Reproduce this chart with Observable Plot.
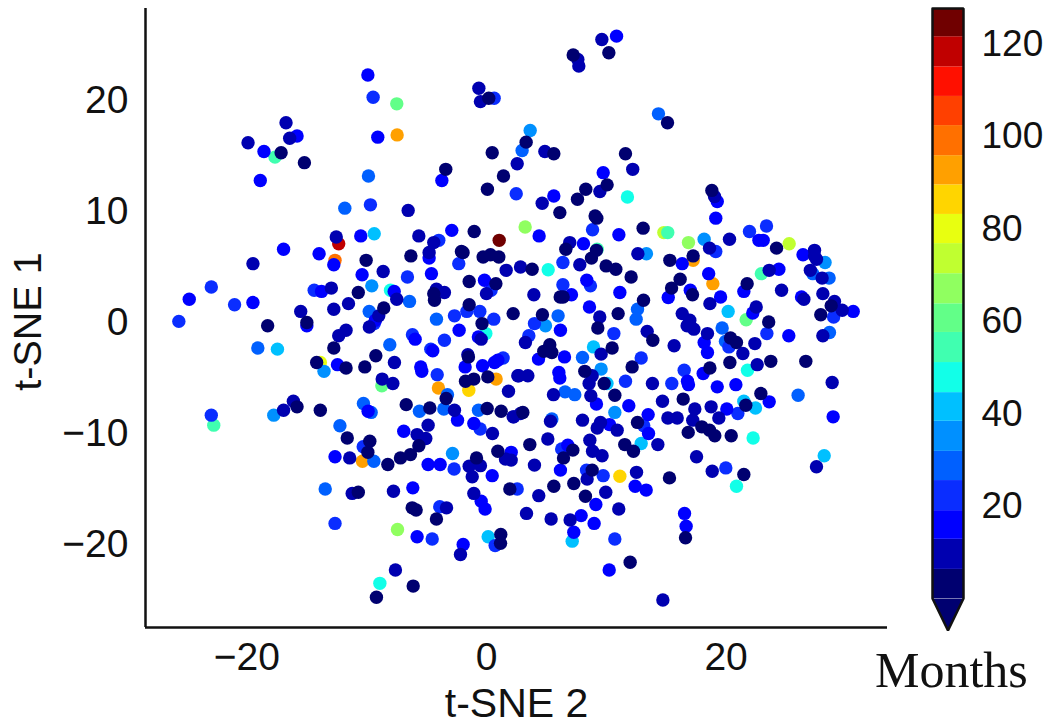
<!DOCTYPE html>
<html>
<head>
<meta charset="utf-8">
<script src="https://cdn.jsdelivr.net/npm/d3@7"></script>
<script src="https://cdn.jsdelivr.net/npm/@observablehq/plot@0.6"></script>
<style>
html,body{margin:0;padding:0;background:#fff}
#wrap{position:relative;width:1050px;height:728px;overflow:hidden}
#wrap svg{position:absolute;left:0;top:0;background:transparent}
#months{position:absolute;left:875px;top:643px;font:50px/54px "Liberation Serif",serif;color:#111}
</style>
</head>
<body>
<div id="wrap"><div id="months">Months</div></div>
<script>
// Colour-bar band edges (months) and their colours
const bandEdges = [0.1,6.4,12.9,19.1,25.6,31.9,38.4,44.6,51.1,57.6,63.8,70.3,76.8,83.1,89.5,95.8,102.3,108.6,115,121.5,127.6];
const bandColors = ["#000070","#0000b0","#0000ff","#0a2dff","#0060ff","#0090ff","#00c0ff","#12ffe8","#40ffb0","#62ff88","#90ff60","#c0ff30","#e8ff10","#ffd500","#ffa000","#ff7000","#ff4000","#ff1000","#c00000","#700000"];
const cbTicks = [20,40,60,80,100,120];
const xTicks = [-20,0,20];
const yTicks = [-20,-10,0,10,20];
const months = bandEdges.slice(0,-1).map((e,i)=>(e+bandEdges[i+1])/2);

// [t-SNE 2, t-SNE 1] per colour band
const b19=[[1.2,7.4]];
const b18=[[-11.9,7.1]];
const b15=[[-12.2,5.6]];
const b14=[[-7.13,16.9],[0.95,-5.1],[-3.76,-5.9],[-9.96,-12.5],[18.64,3.5],[17.03,5.6]];
const b13=[[-1.28,-6.1],[11.05,-13.85]];
const b12=[[-13.4,-3.6]];
const b11=[[24.87,7.1],[14.64,8.1]];
const b10=[[3.32,8.6],[16.65,7.2],[-7.1,-18.65]];
const b9=[[-7.16,19.7],[-8.38,-5.7],[21.36,0.25]];
const b8=[[-17.1,14.9],[-22.1,-9.25],[14.96,8.1],[9.2,6.6],[22.6,4.4]];
const b7=[[-7.67,2.9],[0.11,-1.0],[-8.54,-23.5],[11.67,11.3],[5.2,4.75],[21.47,-4.3],[21.93,-10.4],[20.57,-14.75]];
const b6=[[-9.0,8.0],[-16.9,-2.4],[0.3,-19.3],[19.89,1.0],[8.9,-2.2],[10.0,-5.5],[22.12,-7.7],[21.17,-7.1],[12.79,-10.9],[27.73,-12.0],[7.16,-19.7]];
const b5=[[-9.2,3.3],[-13.1,-4.4],[-17.2,-8.35],[-2.61,-11.8],[3.73,17.3],[17.93,7.5],[13.22,6.2],[27.8,5.4],[4.98,-0.3],[9.52,-4.2],[10.64,-8.1]];
const b4=[[-9.47,13.2],[-11.4,10.3],[-9.41,1.0],[-3.92,0.3],[-18.5,-2.3],[-7.73,-2.0],[-6.12,1.9],[-3.02,-6.5],[-5.31,-8.0],[-3.32,-7.8],[-0.49,-7.9],[-9.88,-7.3],[-9.25,-8.1],[-11.8,-9.3],[-9.03,-12.5],[-13.0,-15.0],[14.2,18.8],[3.07,15.5],[26.8,4.4],[28.13,4.0],[12.49,1.2],[12.38,0.3],[6.01,0.6],[19.4,-0.5],[19.67,-1.7],[28.16,-0.9],[8.0,-3.15],[6.58,-6.25],[7.37,-6.5],[25.6,-6.55],[5.5,-8.7]];
const b3=[[-9.09,20.3],[0.79,20.2],[-22.3,3.2],[-20.4,1.6],[-24.95,0.1],[-13.9,2.9],[-9.31,10.6],[-3.73,7.4],[-2.1,5.3],[-6.29,4.1],[0.54,2.9],[-2.45,0.6],[-1.44,1.0],[-0.38,1.0],[0.76,0.3],[-9,-0.1],[-5.88,-1.1],[-4.38,-2.4],[-3.27,-1.6],[1.52,-3.2],[-3.86,-4.7],[-22.3,-8.35],[-9.9,-11.2],[-0.35,-9.6],[-2.48,-13.2],[2.67,-15.0],[-3.65,-16.6],[-12.2,-18.1],[-4.27,-19.5],[0.87,-20.1],[2.59,11.6],[8.82,8.35],[21.63,8.2],[23.02,8.7],[18.88,6.4],[6.4,5.4],[6.4,3.4],[8.65,3.3],[28.5,0.5],[4.08,-0.1],[3.62,-1.2],[10.56,-1.0],[19.95,-2.2],[23.05,-1.0],[12.79,-3.2],[16.3,-4.3],[11.51,-5.3],[15.29,-5.5],[20.68,-8.2],[13.0,-9.3],[6.3,-11.4],[19.7,-13.1],[8.33,-13.3],[9.69,-13.8],[10.64,-19.5]];
const b2=[[-9.52,22.3],[-8.71,16.7],[-15.3,16.8],[-18.0,15.4],[-18.3,12.8],[-3.48,12.8],[-10.1,7.8],[-2.67,8.3],[-16.4,6.6],[-13.5,6.2],[-12.3,5.2],[-4.52,5.8],[-9.99,4.3],[-4.33,4.4],[0,3.8],[-24.1,2.1],[-18.9,1.8],[-13.3,2.8],[-7.37,2.8],[-8.9,0.2],[-14.5,-0.3],[-12,-3.8],[-5.66,-1.5],[-4.22,-2.55],[-2.07,-0.7],[-0.5,-1.3],[-5.2,-4],[-5.12,-4.4],[-1.58,-4],[-0.16,-3.9],[1.09,-3.4],[0.82,-3.6],[-9.5,-8],[-2.2,-8.8],[-6.59,-9.8],[-0.87,-9.1],[-12.2,-12.1],[2.18,-11.7],[-4.6,-12.8],[-3.62,-12.8],[0.63,-13.8],[-5.85,-14.9],[-0.27,-16.1],[0.05,-16.8],[-5.5,-19.3],[-1.74,-20],[10.78,25.8],[9.69,13.5],[5.66,11.4],[19,10.9],[18.88,9.4],[4.46,7.8],[10.97,7.9],[8.08,7.1],[22.4,7.4],[22.75,7.4],[16.14,5.3],[18.3,4.4],[26,6.1],[24.03,4.8],[25.88,2.3],[21.17,2.8],[19.27,2.3],[15,2.25],[16.8,2.9],[11.05,2.7],[8.57,1.4],[7.1,2.5],[8.35,3.8],[21.9,0.85],[30.1,1.0],[6.2,-0.7],[4.41,-3.3],[6.53,-3.1],[17.93,-1.8],[18.2,-2.7],[24.84,-1.2],[17.85,-4.6],[6.07,-4.5],[6.15,-5.0],[16.57,-5.3],[16.65,-5.6],[19,-5.8],[20.52,-5.6],[9.14,-7.35],[11.78,-7.5],[19.78,-7.8],[23.24,-7.15],[28.46,-8.5],[13.36,-8.3],[13.39,-10],[10.2,-9.2],[6.8,-11.05],[6.2,-13.3],[12.3,-14.75],[13.2,-15.1],[9.09,-16.4],[7.89,-17.4],[8.95,-18.1],[16.33,-17.2],[16.46,-18.35],[7.29,-18.9],[10.18,-22.3]];
const b1=[[-16.2,18],[-15.9,16.6],[-19.3,16.2],[-0.46,21.1],[-0.33,19.9],[2.67,14.3],[-6.23,10.1],[-12.1,7.7],[-5.36,7.8],[-4.14,7.2],[-18.9,5.3],[-4.52,6.3],[1.77,4.7],[2.94,5],[-8.27,4.6],[0.16,2.6],[-12.5,3.1],[-7.16,2.1],[-3.92,3],[-3.27,2.7],[-15,1],[-12.3,1.2],[-11.1,1.7],[-8.63,0.6],[-11.3,-0.7],[-11.9,-1.2],[-9.4,-0.4],[-7.35,-3.6],[-0.27,-1.5],[-1.36,-2.9],[2.72,-4.8],[-8.35,-5.1],[-7.48,-5.5],[1.96,-6.2],[-2.45,-7.9],[2.34,-8.5],[2.94,-8.2],[-15.6,-7.1],[-16.4,-7.9],[-4.6,-9.25],[-5.5,-10.1],[-4.79,-10.45],[-11,-12.2],[0.65,-10],[1.71,-12.3],[2.18,-12.4],[-0.33,-12.9],[-1.25,-12.95],[-1,-13.9],[-10.8,-15.4],[-7.43,-15.2],[-0.87,-15.4],[-3.1,-16.7],[-1.96,-20.9],[-7.27,-22.3],[9.58,25.5],[7.62,23.7],[7.7,23.1],[4.93,15.4],[12.1,13.8],[4.71,10.75],[9.42,11.8],[18.78,11.35],[6.96,7.2],[20,7.5],[7.78,5.2],[12.52,6.2],[18.37,6.7],[26.94,6.5],[26.94,6],[27.1,5.7],[26.6,4.7],[27.56,4],[23.24,4.7],[24.25,2.9],[27.62,2.6],[26.07,2.1],[18.4,1.7],[4.03,2.5],[9.41,0.5],[16.14,0.8],[16.76,0.2],[22.18,1.4],[28.57,1.9],[29.2,1.1],[3.34,-1.8],[9.52,-2.85],[13.28,-0.8],[15.48,-2.1],[18.2,-1],[17.09,-0.6],[16.54,-0.3],[22.07,-1.9],[27.62,-1.2],[21.09,-2.8],[22.26,-3.8],[2.8,-4.8],[3.54,-4.8],[8.79,-4.8],[8.54,-5.5],[13.71,-5.5],[5.63,-6.5],[8.68,-6.6],[14.53,-7.1],[17.17,-7.8],[18.5,-7.6],[19.13,-8.6],[28.38,-5.4],[2.39,-8.5],[5.39,-8.9],[8,-8.8],[9.47,-9],[9.2,-9.5],[10.83,-9.7],[14.97,-8.6],[15.73,-8.6],[17,-8.8],[5.17,-10.5],[8.6,-10.6],[8.82,-11.6],[9.6,-12],[14.15,-11],[4.08,-12.85],[17.31,-12.1],[18.59,-13.4],[27.1,-13],[8.38,-14.1],[12.41,-13.5],[9.9,-15.3],[4.43,-15.6],[3.43,-17.2],[5.44,-17.7],[6.99,-17.8],[10.96,-16.8],[14.56,-25]];
const b0=[[-16.6,15.3],[-14.7,14.4],[0.35,20.2],[0.63,15.3],[1.55,13.2],[0.24,12],[-3.16,13.8],[-0.84,8.2],[-9.66,5.6],[-6.01,6],[-1.88,6.4],[-1.75,6.3],[-0.11,5.9],[0.49,6.1],[1.17,5.9],[-1.25,3.7],[0.93,3.5],[-10.3,2.7],[-4.14,2.6],[-4.08,2],[-8.22,1.3],[-1.25,1.6],[2.34,0.8],[-14.5,0],[-17.7,-0.3],[-12.3,-2.3],[-8.87,-3],[-13.7,-3.6],[-11.3,-4.1],[-9.77,-4],[-0.2,-0.1],[-1.31,-3.1],[-1.55,-5.3],[-0.87,-5.1],[0.27,-4.9],[-3.13,-6.85],[-6.39,-7.4],[-4.46,-7.7],[0.22,-7.75],[1.36,-8],[-15.3,-7.6],[-13.4,-7.9],[-11.2,-10.4],[-5.36,-11.1],[-6.04,-11.9],[-6.86,-12.2],[-7.89,-12.8],[-9.36,-10.7],[-9.52,-11.7],[1.09,-11.6],[-0.65,-12.2],[-10.3,-15.3],[2.07,-15],[-5.9,-16.7],[-5.58,-16.9],[-3.92,-17.7],[1.33,-19.1],[1.31,-19.9],[-5.82,-23.75],[-8.82,-24.75],[10.15,24.3],[7.24,24.1],[14.94,18],[3.4,16.25],[5.66,15.2],[11.51,15.2],[6.15,9.9],[7.59,11.1],[8.27,12],[10.01,12.4],[9.03,9.6],[9.17,9.4],[18.56,11.9],[12.95,8.5],[23.84,6.7],[6.64,6.6],[9.14,6.5],[8.73,5.8],[9.93,5.1],[10.72,4.8],[11.97,4.1],[15.13,5.6],[17.03,6],[3.89,4.8],[21.44,3.5],[15.97,3.9],[15.27,3.1],[16.98,2.5],[12.98,2],[6.18,2.3],[6.42,2.3],[10.91,0.8],[4.73,0.7],[23.2,0.05],[27.45,0.7],[28.3,1.5],[9.25,-0.5],[5.33,-2],[4.84,-2.6],[5.5,-2.7],[10.42,-2.3],[12.05,-4],[13.74,-1.6],[20.08,-1.4],[20.57,-1.8],[20.03,-3.6],[23.37,-3.5],[26.23,-3.5],[18.4,-4.1],[8.19,-4.4],[9.77,-5.5],[10.64,-6.55],[16.22,-6.9],[21.33,-7.45],[22.56,-6.4],[3.13,-8.1],[12.49,-9],[17.74,-9.4],[18.37,-9.7],[18.8,-10.2],[16.63,-9.9],[20.14,-10.2],[3.7,-11],[7.21,-11.5],[6.45,-12.2],[11.45,-11],[12.16,-11.6],[21.17,-13.7],[8.79,-13.3],[15.1,-14],[5.66,-14.75],[7.29,-14.5],[8.24,-15.65],[16.41,-19.4],[11.89,-21.6]];

const groups = [[19,b19],[18,b18],[15,b15],[14,b14],[13,b13],[12,b12],[11,b11],[10,b10],[9,b9],[8,b8],[7,b7],[6,b6],[5,b5],[4,b4],[3,b3],[2,b2],[1,b1],[0,b0]];
// readings were taken on a slightly different x grid; align them to the tick labels
const alignX = x => 1.0225 * x - 0.167;
const rows = groups.flatMap(([b,pts]) => pts.map(([x,y]) => ({x: alignX(x), y, months: months[b]})));

const colorOpts = {type:"threshold", domain: bandEdges.slice(1,-1), range: bandColors};
const font = '"Liberation Sans", Arial, sans-serif';
const ink = "#111";

const main = Plot.plot({
  width:1050, height:728,
  marginLeft:145, marginRight:163, marginTop:8, marginBottom:101,
  style:{fontFamily:font, background:"transparent", color:ink},
  x:{domain:[-28.46,33.47], range:[145,887]},
  y:{domain:[-27.48,28.29], range:[627,8]},
  color:colorOpts,
  marks:[
    Plot.dot(rows,{x:"x",y:"y",fill:"months",r:6.7}),
    Plot.ruleX([-28.46],{stroke:"#111",strokeWidth:2.5}),
    Plot.ruleY([-27.48],{stroke:"#111",strokeWidth:2.5}),
    Plot.axisX({ticks:xTicks,tickSize:0,tickPadding:15,fontSize:39,label:null}),
    Plot.axisY({ticks:yTicks,tickSize:0,tickPadding:17,fontSize:39,label:null}),
    Plot.text(["t-SNE 2"],{frameAnchor:"bottom",lineAnchor:"middle",dy:76,fontSize:41,fill:ink}),
    Plot.text(["t-SNE 1"],{frameAnchor:"left",lineAnchor:"middle",textAnchor:"middle",dx:-117,dy:3.5,rotate:-90,fontSize:39.5,fill:ink})
  ]
});

const bandRows = bandColors.map((c,i)=>({y1:bandEdges[i],y2:bandEdges[i+1],m:months[i]}));
const tip = [{x:0,y:0.1},{x:1,y:0.1},{x:0.5,y:-6.8}];
const outline = [{x:0,y:127.6},{x:1,y:127.6},{x:1,y:0.1},{x:0.5,y:-6.8},{x:0,y:0.1},{x:0,y:127.6}];
const bar = Plot.plot({
  width:1050, height:728,
  marginLeft:932, marginRight:87, marginTop:8, marginBottom:98,
  style:{fontFamily:font, background:"transparent", color:ink},
  x:{domain:[0,1], range:[932,963], axis:null},
  y:{domain:[-6.8,127.6], range:[630,8]},
  color:colorOpts,
  marks:[
    Plot.rect(bandRows,{x1:0,x2:1,y1:"y1",y2:"y2",fill:"m"}),
    Plot.line(tip,{x:"x",y:"y",fill:bandColors[0],stroke:"none"}),
    Plot.line(outline,{x:"x",y:"y",stroke:"#111",strokeWidth:2.5,strokeLinejoin:"miter"}),
    Plot.axisY({anchor:"right",ticks:cbTicks,tickSize:0,tickPadding:18,fontSize:37,label:null})
  ]
});
const wrap = document.getElementById("wrap");
wrap.appendChild(main);
wrap.appendChild(bar);
</script>
</body>
</html>
